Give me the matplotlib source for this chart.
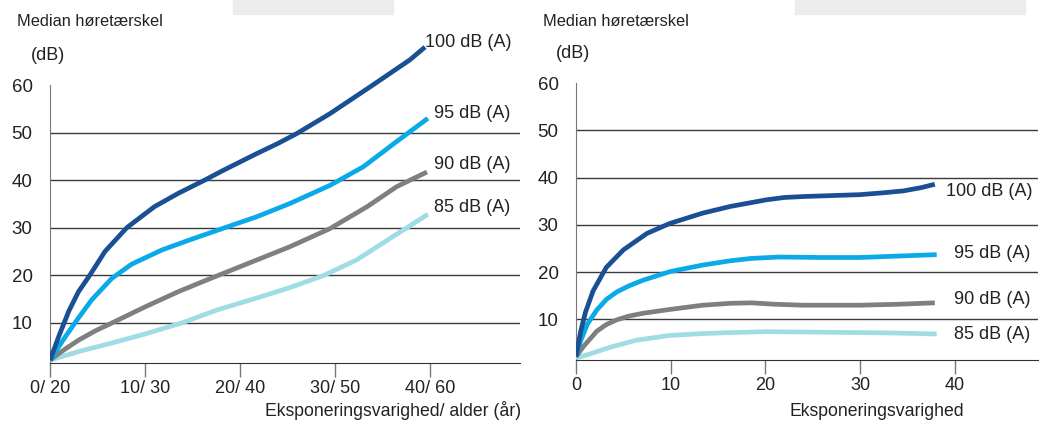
import matplotlib.pyplot as plt
from matplotlib.patches import Rectangle

plt.rcParams['font.family'] = ['Liberation Sans', 'DejaVu Sans']

# Hearing threshold vs exposure duration / age (left panel)
left_x_100 = [0, 1.0, 2.0, 3.0, 4.2, 5.8, 8.1, 11.0, 13.5, 16.3, 18.3, 21.8, 24.0, 26.0, 29.5, 33.7, 37.9, 39.5]
left_y_100 = [2.1, 7.5, 12.5, 16.5, 20.0, 25.0, 30.0, 34.4, 37.2, 40.0, 42.1, 45.6, 47.7, 49.8, 54.0, 59.6, 65.3, 68.0]

left_x_95 = [0, 1.6, 3.0, 4.4, 6.5, 8.6, 11.8, 14.7, 18.3, 21.8, 25.3, 29.5, 33.0, 36.5, 39.8]
left_y_95 = [2.1, 7.0, 11.0, 14.8, 19.3, 22.3, 25.3, 27.4, 29.9, 32.3, 35.1, 38.9, 42.8, 48.1, 53.0]

left_x_90 = [0, 1.5, 3.0, 4.8, 6.6, 10.0, 13.5, 16.3, 18.3, 21.8, 25.3, 29.5, 33.4, 36.5, 39.7]
left_y_90 = [2.1, 4.3, 6.3, 8.3, 10.0, 13.3, 16.5, 18.8, 20.4, 23.2, 26.0, 29.8, 34.4, 38.6, 41.7]

left_x_85 = [0, 3.0, 6.5, 10.0, 14.0, 17.5, 21.8, 25.3, 28.8, 32.3, 35.8, 39.8]
left_y_85 = [2.1, 3.9, 5.7, 7.6, 10.0, 12.6, 15.2, 17.4, 19.9, 23.2, 27.7, 32.8]

# Hearing threshold vs exposure duration (right panel)
right_x_100 = [0, 0.5, 1.0, 1.8, 3.2, 5.0, 7.5, 9.9, 13.4, 16.3, 20.1, 22.0, 24.0, 27.0, 30.0, 32.5, 34.6, 36.5, 37.9]
right_y_100 = [2.1, 7.5, 11.5, 16.0, 21.0, 24.7, 28.2, 30.3, 32.5, 33.9, 35.3, 35.8, 36.0, 36.2, 36.4, 36.8, 37.2, 37.9, 38.6]

right_x_95 = [0, 0.5, 1.2, 2.2, 3.2, 4.3, 5.6, 7.1, 9.9, 13.4, 16.3, 18.5, 21.5, 25.8, 30.0, 34.0, 38.1]
right_y_95 = [2.1, 5.5, 9.0, 12.0, 14.2, 15.8, 17.1, 18.3, 20.1, 21.5, 22.4, 22.9, 23.2, 23.1, 23.1, 23.4, 23.7]

right_x_90 = [0, 0.8, 2.2, 3.2, 4.3, 5.6, 7.1, 9.9, 13.4, 16.3, 18.5, 21.0, 24.0, 30.0, 34.0, 37.9]
right_y_90 = [2.1, 4.3, 7.5, 8.9, 9.9, 10.7, 11.3, 12.1, 13.0, 13.4, 13.5, 13.2, 13.0, 13.0, 13.2, 13.5]

right_x_85 = [0, 1.5, 3.6, 6.4, 9.9, 13.4, 16.3, 20.1, 25.0, 30.0, 34.0, 38.1]
right_y_85 = [1.8, 2.7, 4.1, 5.6, 6.6, 7.0, 7.2, 7.4, 7.3, 7.2, 7.1, 6.9]

labels = ['100 dB (A)', '95 dB (A)', '90 dB (A)', '85 dB (A)']
colors = ['#1b4f93', '#0aa9e8', '#7f7f7f', '#9fdce3']

left_label_pos = [(39.5, 69.0), (40.4, 54.1), (40.4, 43.2), (40.4, 34.3)]
right_label_pos = [(39.1, 37.0), (39.9, 24.0), (39.9, 14.1), (39.9, 6.7)]

W, H = 1042, 424
fig = plt.figure(figsize=(W / 100, H / 100), dpi=100)

# faint grey strips along the top edge
for x0, w in [(233, 160), (795, 230)]:
    fig.patches.append(Rectangle((x0 / W, 1 - 14 / H), w / W, 14 / H,
                                 transform=fig.transFigure, color='#ececec', zorder=0))

ax1 = fig.add_axes([50 / W, 1 - 363 / H, 470 / W, 363 / H])
ax2 = fig.add_axes([576 / W, 1 - 360 / H, 462 / W, 360 / H])
ax1.set_xlim(0, 49.5)
ax1.set_ylim(1.5, 77.9)
ax2.set_xlim(0, 48.8)
ax2.set_ylim(1.4, 77.6)

left_series = [(left_x_100, left_y_100), (left_x_95, left_y_95),
               (left_x_90, left_y_90), (left_x_85, left_y_85)]
right_series = [(right_x_100, right_y_100), (right_x_95, right_y_95),
                (right_x_90, right_y_90), (right_x_85, right_y_85)]

for ax, series, pos in [(ax1, left_series, left_label_pos), (ax2, right_series, right_label_pos)]:
    ax.patch.set_alpha(0)
    for yv in [10, 20, 30, 40, 50]:
        ax.axhline(yv, color='#3a3a3a', lw=1.0, zorder=1)
    for (xs, ys), c in zip(series[::-1], colors[::-1]):
        ax.plot(xs, ys, color=c, lw=3.4, solid_capstyle='butt', solid_joinstyle='round', zorder=3)
    for (tx, ty), lab in zip(pos, labels):
        ax.text(tx, ty, lab, fontsize=13, va='center', ha='left', color='#222222')
    for s in ['top', 'right']:
        ax.spines[s].set_visible(False)
    ax.spines['left'].set_color('#777777')
    ax.spines['bottom'].set_color('#333333')
    ax.spines['left'].set_bounds(ax.get_ylim()[0], 60)
    ax.set_yticks([10, 20, 30, 40, 50, 60])
    ax.set_xticks([0, 10, 20, 30, 40])
    ax.tick_params(axis='y', length=0, pad=12.5, labelsize=13.5, labelcolor='#222222')
    ax.tick_params(axis='x', length=10, width=1, color='#777777', pad=2,
                   labelsize=13, labelcolor='#222222')

ax1.set_xticklabels(['0/ 20', '10/ 30', '20/ 40', '30/ 50', '40/ 60'])
ax2.set_xticklabels(['0', '10', '20', '30', '40'])

head = dict(fontsize=11.8, va='center', ha='left', color='#222222')
fig.text(17 / W, 1 - 22 / H, 'Median høretærskel', **head)
fig.text(31 / W, 1 - 55 / H, '(dB)', fontsize=13, va='center', ha='left', color='#222222')
fig.text(543 / W, 1 - 22 / H, 'Median høretærskel', **head)
fig.text(556 / W, 1 - 53 / H, '(dB)', fontsize=13, va='center', ha='left', color='#222222')
fig.text(521 / W, 1 - 411 / H, 'Eksponeringsvarighed/ alder (år)', fontsize=12.7,
         va='center', ha='right', color='#222222')
fig.text(877 / W, 1 - 412 / H, 'Eksponeringsvarighed', fontsize=12.7,
         va='center', ha='center', color='#222222')

fig.savefig('out.png', dpi=100)
